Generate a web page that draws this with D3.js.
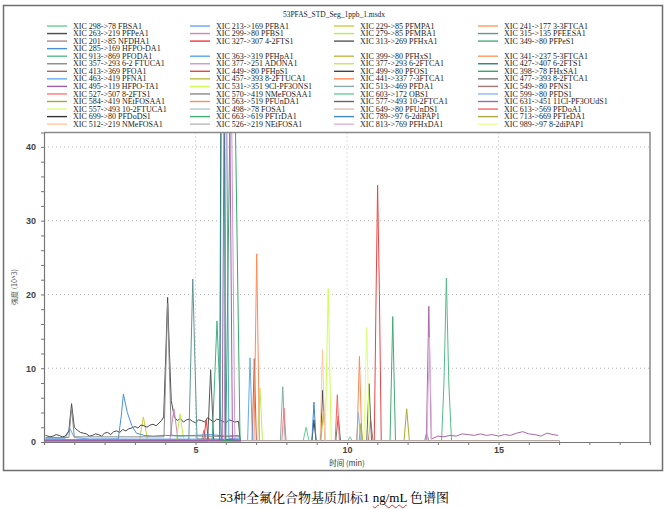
<!DOCTYPE html>
<html><head><meta charset="utf-8">
<script src="https://cdn.jsdelivr.net/npm/d3@7"></script>
<style>
body{margin:0;background:#fff;width:669px;height:509px;overflow:hidden;position:relative;}
svg{position:absolute;left:0;top:0;}
#cap{position:absolute;left:0;width:669px;top:487px;text-align:center;font-family:"Liberation Serif","Noto Serif CJK SC","Noto Sans CJK SC",serif;font-size:13px;color:#000;}
#cap .w{text-decoration:underline wavy #e03030;text-decoration-thickness:1px;text-underline-offset:2px;}
</style></head>
<body>
<div id="cap">53种全氟化合物基质加标1 <span class="w">ng/mL</span> 色谱图</div>
<script>
// ---------- data ----------
const fileTitle = "53PFAS_STD_Seg_1ppb_1.msdx";
const xLabel = "时间 (min)";
const yLabel = "强度 (10^3)";
const xTickLabels = [5, 10, 15];
const yTickLabels = [0, 10, 20, 30, 40];

const seriesNames = [
 "XIC 298->78 FBSA1","XIC 213->169 PFBA1","XIC 229->85 PFMPA1","XIC 241->177 3-3FTCA1",
 "XIC 263->219 PFPeA1","XIC 299->80 PFBS1","XIC 279->85 PFMBA1","XIC 315->135 PFEESA1",
 "XIC 201->85 NFDHA1","XIC 327->307 4-2FTS1","XIC 313->269 PFHxA1","XIC 349->80 PFPeS1",
 "XIC 285->169 HFPO-DA1",
 "XIC 913->869 PFODA1","XIC 363->319 PFHpA1","XIC 399->80 PFHxS1","XIC 341->237 5-3FTCA1",
 "XIC 357->293 6-2 FTUCA1","XIC 377->251 ADONA1","XIC 377->293 6-2FTCA1","XIC 427->407 6-2FTS1",
 "XIC 413->369 PFOA1","XIC 449->80 PFHpS1","XIC 499->80 PFOS1","XIC 398->78 FHxSA1",
 "XIC 463->419 PFNA1","XIC 457->393 8-2FTUCA1","XIC 441->337 7-3FTCA1","XIC 477->393 8-2FTCA1",
 "XIC 495->119 HFPO-TA1","XIC 531->351 9Cl-PF3ONS1","XIC 513->469 PFDA1","XIC 549->80 PFNS1",
 "XIC 527->507 8-2FTS1","XIC 570->419 NMeFOSAA1","XIC 603->172 OBS1","XIC 599->80 PFDS1",
 "XIC 584->419 NEtFOSAA1","XIC 563->519 PFUnDA1","XIC 577->493 10-2FTCA1","XIC 631->451 11Cl-PF3OUdS1",
 "XIC 557->493 10-2FTUCA1","XIC 498->78 FOSA1","XIC 649->80 PFUnDS1","XIC 613->569 PFDoA1",
 "XIC 699->80 PFDoDS1","XIC 663->619 PFTrDA1","XIC 789->97 6-2diPAP1","XIC 713->669 PFTeDA1",
 "XIC 512->219 NMeFOSA1","XIC 526->219 NEtFOSA1","XIC 813->769 PFHxDA1","XIC 989->97 8-2diPAP1"
];

const seriesColors = [
 "#66cc99","#66aaee","#cccc44","#ff9966",
 "#4a4a4a","#cc88bb","#bbee44","#5f9696",
 "#aa8888","#ee3b3b","#555555","#44b080",
 "#4a90d9",
 "#55bb88","#5aa5ee","#bbbb44","#ff9966",
 "#8a8a8a","#cc99cc","#bbee55","#2f7f80",
 "#aa6666","#ee4444","#444444","#33aa66",
 "#66aaee","#bbbb44","#ff8a55","#777777",
 "#a060a8","#ccff55","#88aaaa","#aa7777",
 "#ff7777","#888888","#66cc99","#88bbee",
 "#aaaa33","#ff8855","#666666","#aa66aa",
 "#ddff77","#aacccc","#ddbbbb","#ff6060",
 "#333333","#44aa77","#4488cc","#aaaa44",
 "#ffc8a0","#bbbbbb","#ddb5dd","#eeff99"
];

// [time (min), intensity (10^3)] points
const seriesPoints = [
 [[6.5,0.1],[10.02,0.1],[10.1,0.7],[10.18,0.1],[17,0.1]],
 [[0.05,0.5],[0.7,0.5],[0.86,1.8],[1.0,0.6],[1.5,0.4],[6.5,0.4]],
 [[0.05,0.2],[3.15,0.2],[3.28,3.4],[3.42,0.3],[6.5,0.2]],
 [[0.05,0.15],[6.5,0.15]],
 [[0.05,0.9],[0.2,0.7],[0.3,0.8],[0.4,1.0],[0.5,0.9],[0.6,0.7],[0.7,0.8],[0.82,1.5],[0.91,5.2],[1.0,2.0],[1.1,1.6],[1.2,1.3],[1.3,1.2],[1.4,1.1],[1.5,0.8],[1.6,0.9],[1.7,1.1],[1.8,1.0],[1.9,0.8],[2.0,1.2],[2.1,1.3],[2.2,1.0],[2.3,1.4],[2.4,1.5],[2.5,1.3],[2.6,1.7],[2.7,1.5],[2.8,1.8],[2.9,1.9],[3.0,2.1],[3.1,1.9],[3.2,2.3],[3.3,2.2],[3.4,2.0],[3.5,2.3],[3.6,2.4],[3.7,2.2],[3.8,2.6],[3.88,2.9],[3.95,3.4],[4.02,12],[4.08,19.6],[4.14,12],[4.2,5.6],[4.3,3.4],[4.4,2.9],[4.5,3.2],[4.6,2.7],[4.7,3.0],[4.8,3.1],[4.9,2.8],[5.0,2.6],[5.1,3.0],[5.2,2.9],[5.3,2.7],[5.4,3.3],[5.5,3.0],[5.6,2.7],[5.7,3.1],[5.8,3.0],[5.9,2.8],[6.0,2.6],[6.1,3.0],[6.2,2.9],[6.3,2.7],[6.42,2.8],[6.47,0.3],[6.5,0.2]],
 [[0.05,0.2],[4.15,0.2],[4.29,4.5],[4.42,0.3],[6.5,0.2]],
 [[0.05,0.25],[4.37,0.25],[4.49,3.8],[4.61,0.3],[6.5,0.25]],
 [[0.05,0.3],[4.78,0.3],[4.91,22.1],[5.05,0.4],[6.5,0.3]],
 [[0.05,0.2],[5.2,0.2],[5.28,1.6],[5.36,0.2],[6.5,0.2]],
 [[0.05,0.15],[5.27,0.15],[5.35,3.0],[5.43,0.15],[6.5,0.15]],
 [[0.05,0.1],[5.4,0.1],[5.5,9.8],[5.6,0.2],[6.5,0.1]],
 [[0.05,0.2],[5.55,0.2],[5.71,16.4],[5.86,0.3],[6.5,0.2]],
 [[0.05,0.3],[2.45,0.4],[2.55,3.5],[2.62,6.5],[2.75,4.0],[2.9,2.2],[3.05,1.2],[3.3,0.9],[3.6,0.8],[4.0,0.9],[4.5,0.8],[5.0,0.9],[5.5,1.0],[6.0,0.8],[6.42,0.9],[6.48,0.3]],
 [[6.5,0.1],[13.12,0.1],[13.2,8],[13.28,22.2],[13.36,8],[13.45,0.1],[17,0.1]],
 [[0.05,0.3],[5.8,0.3],[5.93,110],[6.1,0.5],[6.4,0.4],[6.5,0.3]],
 [[0.05,0.1],[6.5,0.1]],
 [[6.5,0.1],[17,0.1]],
 [[0.05,0.6],[0.82,0.6],[0.91,4.6],[1.0,0.7],[3.96,0.7],[4.08,18.8],[4.2,0.9],[6.45,0.7],[6.5,0.2]],
 [[0.05,0.2],[5.95,0.2],[6.08,90],[6.3,0.3],[6.5,0.2]],
 [[6.5,0.1],[7.05,0.1],[7.13,7.3],[7.21,0.1],[17,0.1]],
 [[0.05,0.2],[5.8,0.2],[5.89,120],[5.99,0.3],[6.5,0.2]],
 [[6.5,0.1],[6.87,0.1],[6.94,11.3],[7.01,0.1],[17,0.1]],
 [[6.5,0.1],[10.9,0.1],[10.96,20],[11.01,34.8],[11.07,20],[11.13,0.1],[17,0.1]],
 [[6.5,0.1],[9.12,0.1],[9.2,7.0],[9.28,0.1],[17,0.1]],
 [[0.05,0.2],[6.0,0.2],[6.22,70],[6.47,0.3],[6.5,0.2]],
 [[6.5,0.2],[6.72,0.2],[6.8,11.4],[6.88,0.2],[17,0.15]],
 [[6.5,0.1],[9.14,0.1],[9.22,4.2],[9.3,0.1],[17,0.1]],
 [[6.5,0.1],[6.93,0.1],[7.02,25.5],[7.11,0.1],[17,0.1]],
 [[6.5,0.1],[9.63,0.1],[9.71,3.5],[9.79,0.1],[17,0.1]],
 [[0.05,0.2],[5.88,0.2],[6.02,100],[6.22,0.3],[6.5,0.2]],
 [[6.5,0.1],[9.28,0.1],[9.38,20.8],[9.48,0.1],[17,0.1]],
 [[6.5,0.1],[7.8,0.1],[7.88,7.5],[7.96,0.1],[17,0.1]],
 [[6.5,0.1],[10.7,0.1],[10.78,3.0],[10.86,0.1],[17,0.1]],
 [[6.5,0.1],[7.85,0.1],[7.92,4.6],[7.99,0.1],[17,0.1]],
 [[6.5,0.1],[12.56,0.1],[12.63,1.3],[12.7,0.1],[17,0.1]],
 [[6.5,0.1],[8.55,0.1],[8.65,2.0],[8.75,0.1],[17,0.1]],
 [[6.5,0.1],[10.31,0.1],[10.38,4.0],[10.45,0.1],[17,0.1]],
 [[6.5,0.1],[11.88,0.1],[11.97,4.5],[12.06,0.1],[17,0.1]],
 [[6.5,0.1],[10.33,0.1],[10.41,11.6],[10.49,0.1],[17,0.1]],
 [[6.5,0.1],[10.65,0.1],[10.73,7.9],[10.81,0.1],[17,0.1]],
 [[6.5,0.2],[12.62,0.2],[12.7,18.4],[12.78,0.4],[13.0,0.8],[13.2,0.7],[13.4,0.9],[13.6,0.8],[13.8,1.1],[14.0,1.0],[14.2,0.9],[14.4,1.1],[14.6,0.9],[14.8,1.0],[15.0,0.8],[15.2,1.0],[15.4,0.9],[15.6,1.2],[15.8,1.4],[16.0,1.1],[16.2,1.0],[16.4,0.8],[16.6,1.2],[16.8,1.0],[16.97,0.9]],
 [[6.5,0.1],[10.56,0.1],[10.65,15.5],[10.74,0.1],[17,0.1]],
 [[6.5,0.15],[17,0.15]],
 [[6.5,0.05],[17,0.05]],
 [[6.5,0.1],[9.61,0.1],[9.68,6.4],[9.75,0.1],[17,0.1]],
 [[6.5,0.1],[8.84,0.1],[8.91,3.0],[8.98,0.1],[17,0.1]],
 [[6.5,0.1],[11.42,0.1],[11.51,17.0],[11.6,0.1],[17,0.1]],
 [[6.5,0.1],[8.84,0.1],[8.91,5.4],[8.98,0.1],[17,0.1]],
 [[6.5,0.1],[10.4,0.1],[10.46,2.5],[10.52,0.1],[17,0.1]],
 [[6.5,0.1],[9.11,0.1],[9.19,12.6],[9.27,0.1],[17,0.1]],
 [[6.5,0.1],[17,0.1]],
 [[6.5,0.1],[12.64,0.1],[12.72,14.2],[12.8,0.1],[17,0.1]],
 [[6.5,0.05],[17,0.05]]
];

// ---------- drawing ----------
const W = 669, H = 509;
const svg = d3.select("body").append("svg").attr("width", W).attr("height", H);

// outer frame
svg.append("rect").attr("x",3.5).attr("y",5.5).attr("width",659).attr("height",465)
  .attr("fill","none").attr("stroke","#6e6e6e").attr("stroke-width",1.5);

svg.append("text").attr("x",334).attr("y",16.5).attr("text-anchor","middle")
  .attr("font-family","Liberation Serif, serif").attr("font-size",7.5).attr("fill","#222")
  .text(fileTitle);

// legend
const lg = svg.append("g");
const colX = [47, 190, 334, 478];
seriesNames.forEach((name, i) => {
  const j = i < 13 ? i : i + 3;
  const row = Math.floor(j / 4), col = j % 4;
  const y = 26 + row * 7.55;
  lg.append("line").attr("x1",colX[col]).attr("x2",colX[col]+20).attr("y1",y).attr("y2",y)
    .attr("stroke",seriesColors[i]).attr("stroke-width",1.4);
  lg.append("text").attr("x",colX[col]+26).attr("y",y).attr("dy","0.33em")
    .attr("font-family","Liberation Serif, serif").attr("font-size",8).attr("fill","#222")
    .text(name);
});

// scales
const L = 44, R = 650, T = 132.5, B = 442;
const x = d3.scaleLinear().domain([0, 20]).range([L, R]);
const y = d3.scaleLinear().domain([0, 41.95]).range([B, T]);

// grid
const grid = svg.append("g").attr("stroke","#b8b8b8").attr("stroke-dasharray","1,3").attr("stroke-width",1);
yTickLabels.filter(v => v > 0).forEach(v => {
  grid.append("line").attr("x1",L).attr("x2",R).attr("y1",y(v)).attr("y2",y(v));
});
xTickLabels.forEach(v => {
  grid.append("line").attr("x1",x(v)).attr("x2",x(v)).attr("y1",T).attr("y2",B);
});

// traces
svg.append("clipPath").attr("id","clip").append("rect")
  .attr("x",L).attr("y",T).attr("width",R-L).attr("height",B-T);
const line = d3.line().x(d => x(d[0])).y(d => y(d[1]));
const tg = svg.append("g").attr("clip-path","url(#clip)");
seriesPoints.forEach((pts, i) => {
  tg.append("path").attr("d", line(pts)).attr("fill","none")
    .attr("stroke", seriesColors[i]).attr("stroke-width", 1).attr("stroke-linejoin","round");
});

// plot frame (top/right)
svg.append("path").attr("d",`M${L},${T}H${R}V${B}`).attr("fill","none")
  .attr("stroke","#8a8a8a").attr("stroke-width",1.5);

// axes
const xAxis = d3.axisBottom(x).tickValues(d3.range(1, 20)).tickSize(3).tickPadding(2)
  .tickFormat(d => xTickLabels.includes(d) ? d : "");
const gx = svg.append("g").attr("transform",`translate(0,${B})`).call(xAxis);
const yAxis = d3.axisLeft(y).tickValues(d3.range(0, 42, 2)).tickSize(3).tickPadding(5)
  .tickFormat(d => yTickLabels.includes(d) ? d : "");
const gy = svg.append("g").attr("transform",`translate(${L},0)`).call(yAxis);
[gx, gy].forEach(g => {
  g.select(".domain").attr("stroke","#777").attr("stroke-width",1.2);
  g.selectAll(".tick line").attr("stroke","#777");
  g.selectAll(".tick text").attr("fill","#444").attr("font-family","Liberation Sans, Arial, sans-serif")
    .attr("font-size",9).attr("font-weight","bold");
});

// axis titles
svg.append("text").attr("x",347).attr("y",466).attr("text-anchor","middle")
  .attr("font-family","Noto Sans CJK SC, sans-serif").attr("font-size",7.5).attr("fill","#333")
  .text(xLabel);
svg.append("text").attr("transform","translate(17,287) rotate(-90)").attr("text-anchor","middle")
  .attr("font-family","Noto Sans CJK SC, sans-serif").attr("font-size",7).attr("fill","#555")
  .text(yLabel);
</script>
</body></html>
